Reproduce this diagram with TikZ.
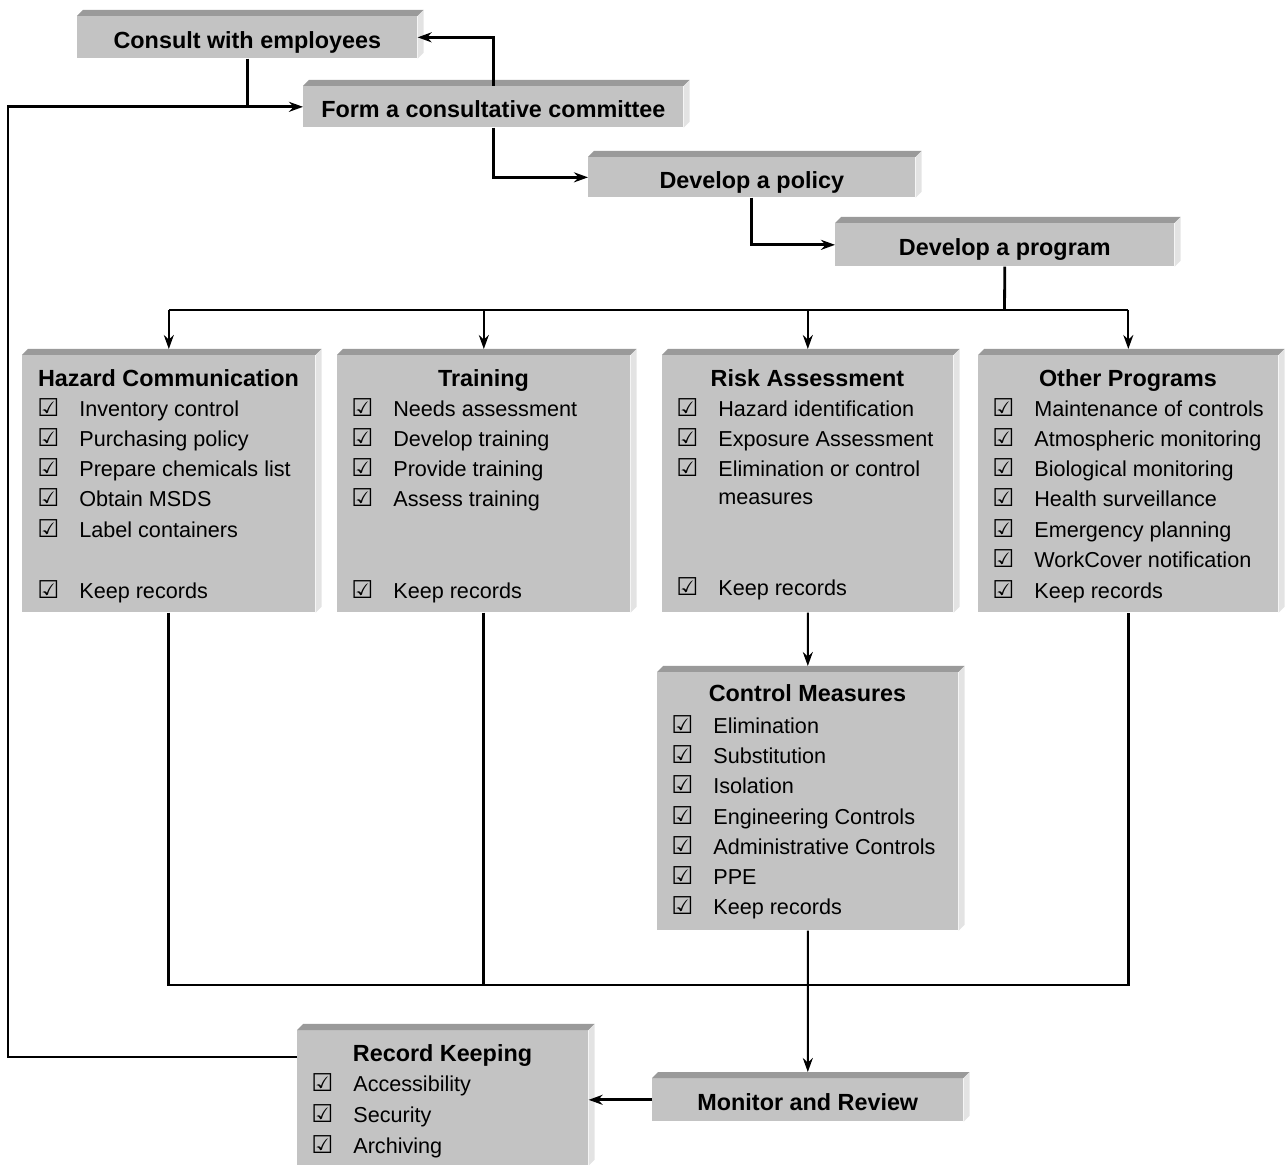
\documentclass[tikz,border=0pt]{standalone}
\usepackage{fontspec}
\setmainfont{Liberation Sans}
\newfontfamily\symfont{DejaVu Sans}
\usetikzlibrary{arrows.meta}
\definecolor{barface}{HTML}{C3C3C3}
\definecolor{bartop}{HTML}{9A9A9A}
\definecolor{barside}{HTML}{E3E3E3}
\newcommand{\chk}{{\symfont\fontsize{14}{14}\selectfont ☑}}

\begin{document}
\begin{tikzpicture}[x=0.02cm,y=-0.02cm,
    bar/.style={fill=barface,anchor=north west,inner sep=0pt,text height=0.44cm,text depth=0pt,
      font=\fontsize{13.3}{16}\selectfont\bfseries},
    title/.style={inner sep=0pt,text height=0.42cm,text depth=0.09cm,
      font=\fontsize{13.3}{16}\selectfont\bfseries},
    item/.style={anchor=west,inner sep=0pt,text height=0.36cm,text depth=0.08cm,
      font=\fontsize{12.3}{15}\selectfont},
    link/.style={line width=1.6pt},
    thin link/.style={line width=1.1pt},
    >={Stealth[length=0.28cm,width=0.2cm]}]
    \useasboundingbox (0,0) rectangle (1286,1165);
    %% steps at the top
    \node[bar,minimum width=6.8cm,minimum height=0.84cm] (consult) at (77,16) {Consult with employees};
    \node[bar,minimum width=7.6cm,minimum height=0.82cm] (form) at (303,86) {Form a consultative committee};
    \node[bar,minimum width=6.54cm,minimum height=0.8cm] (policy) at (588,157) {Develop a policy};
    \node[bar,minimum width=6.78cm,minimum height=0.86cm] (program) at (835,223) {Develop a program};
    %% program boxes
    \node[bar,minimum width=5.86cm,minimum height=5.14cm] (haz) at (22,355) {};
    \node[bar,minimum width=5.86cm,minimum height=5.14cm] (train) at (337,355) {};
    \node[bar,minimum width=5.82cm,minimum height=5.14cm] (risk) at (662,355) {};
    \node[bar,minimum width=6cm,minimum height=5.14cm] (other) at (978,355) {};
    \node[bar,minimum width=6.02cm,minimum height=5.16cm] (control) at (657,672) {};
    %% bottom
    \node[bar,minimum width=6.22cm,minimum height=0.86cm] (monitor) at (652,1078) {Monitor and Review};
    \node[bar,minimum width=5.82cm,minimum height=2.7cm] (record) at (297,1030) {};
    %% top and side faces
    \foreach \n in {consult,form,policy,program,haz,train,risk,other,control,monitor,record} {
        \fill[bartop] (\n.north west) -- ++(6,-6) -- ([shift={(6,-6)}]\n.north east) -- (\n.north east) -- cycle;
        \fill[barside] (\n.north east) -- ++(6,-6) -- ([shift={(6,-6)}]\n.south east) -- (\n.south east) -- cycle;
    }
    %% titles
    \foreach \x/\y/\n/\t in {168.5/378/haz/Hazard Communication,483.5/378/train/Training,
        807.5/378/risk/Risk Assessment,1128/378/other/Other Programs,
        807.5/693/control/Control Measures,442.5/1053/record/Record Keeping}
        \node[title] (\n-title) at (\x,\y) {\t};
    %% lists
    \foreach \y/\t [count=\i] in {410/Inventory control,440/Purchasing policy,470/Prepare chemicals list,
        500/Obtain MSDS,531/Label containers,592/Keep records}
        \node[item] (haz-\i) at (37,\y) {\makebox[0.84cm][l]{\chk}\t};
    \foreach \y/\t [count=\i] in {410/Needs assessment,440/Develop training,470/Provide training,
        500/Assess training,592/Keep records}
        \node[item] (train-\i) at (351,\y) {\makebox[0.84cm][l]{\chk}\t};
    \foreach \y/\t [count=\i] in {410/Hazard identification,440/Exposure Assessment,
        470/Elimination or control,589/Keep records}
        \node[item] (risk-\i) at (676,\y) {\makebox[0.84cm][l]{\chk}\t};
    \node[item] (risk-more) at (718,498) {measures};
    \foreach \y/\t [count=\i] in {410/Maintenance of controls,440/Atmospheric monitoring,
        470/Biological monitoring,500/Health surveillance,531/Emergency planning,
        561/WorkCover notification,592/Keep records}
        \node[item] (other-\i) at (992,\y) {\makebox[0.84cm][l]{\chk}\t};
    \foreach \y/\t [count=\i] in {727/Elimination,757/Substitution,787/Isolation,818/Engineering Controls,
        848/Administrative Controls,878/PPE,908/Keep records}
        \node[item] (control-\i) at (671,\y) {\makebox[0.84cm][l]{\chk}\t};
    \foreach \y/\t [count=\i] in {1085/Accessibility,1116/Security,1147/Archiving}
        \node[item] (record-\i) at (311,\y) {\makebox[0.84cm][l]{\chk}\t};
    %% connectors at the top
    \draw[link] (consult.south) -- (consult.south |- form.west);
    \draw[link,->] (form.north) |- (consult.east);
    \draw[link,->] (form.south) |- (policy.west);
    \draw[link,->] (policy.south) |- (program.west);
    %% split into the programs
    \coordinate (split) at (1004.5,310);
    \draw[link] (program.south) -- (split);
    \draw[link] (haz.north |- split) -- (other.north |- split);
    \foreach \n in {haz,train,risk,other}
        \draw[thin link,->] (\n.north |- split) -- ([yshift=0.12cm]\n.north);
    \draw[thin link,->] (risk.south) -- ([yshift=0.12cm]control.north);
    %% join and review
    \coordinate (join) at (807.5,985);
    \draw[link] (haz.south) |- (other.south |- join) -- (other.south);
    \draw[link] (train.south) -- (train.south |- join);
    \draw[thin link,->] (control.south) -- ([yshift=0.12cm]monitor.north);
    \draw[link,->] (monitor.west) -- (record.east |- monitor.west);
    %% back to the committee
    \coordinate (back) at (8,1057);
    \draw[link,->] (record.west |- back) -- (back) |- (form.west);
\end{tikzpicture}
\end{document}
